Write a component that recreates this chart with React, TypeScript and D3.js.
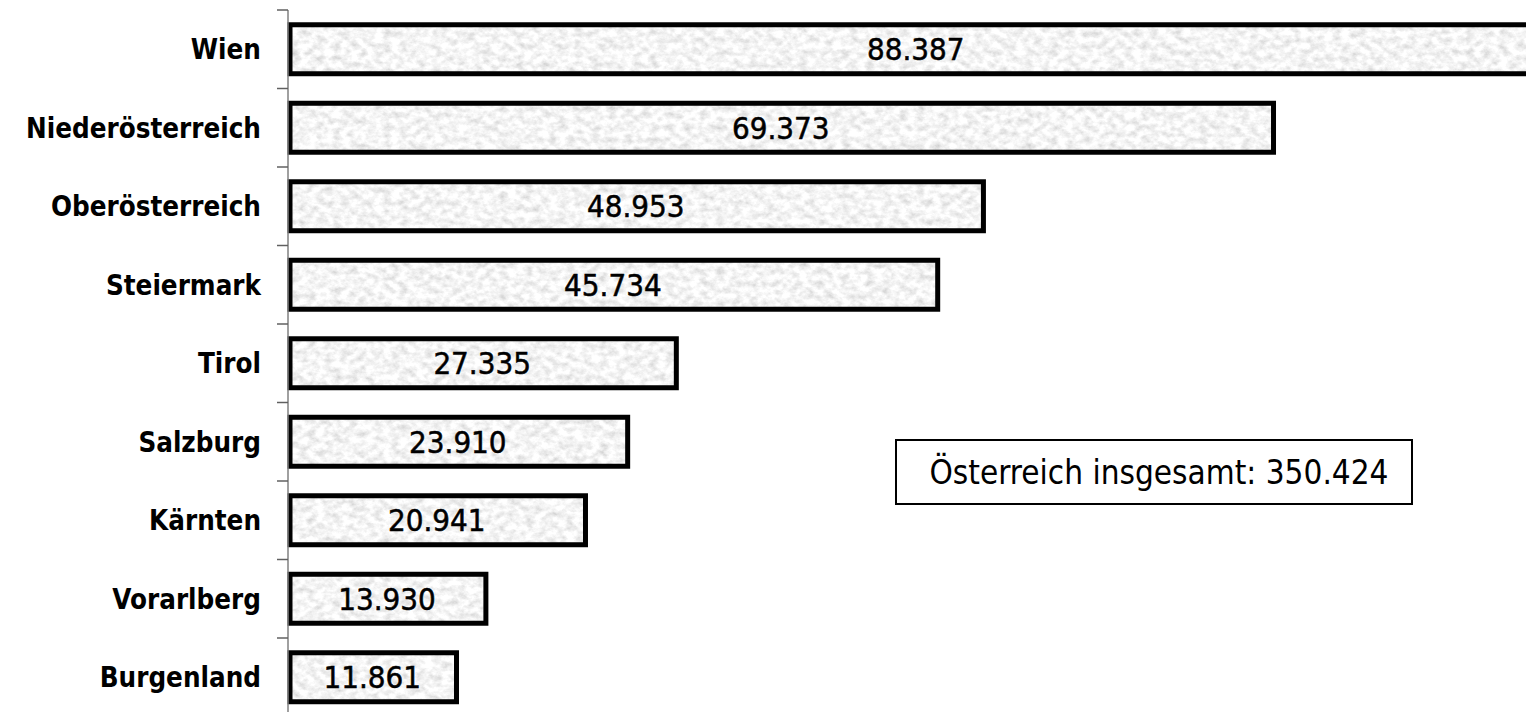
import React from 'react';
import * as d3 from 'd3';

const regions = ['Wien', 'Niederösterreich', 'Oberösterreich', 'Steiermark', 'Tirol', 'Salzburg', 'Kärnten', 'Vorarlberg', 'Burgenland'];
const values = [88.387, 69.373, 48.953, 45.734, 27.335, 23.91, 20.941, 13.93, 11.861];
const valueLabels = ['88.387', '69.373', '48.953', '45.734', '27.335', '23.910', '20.941', '13.930', '11.861'];
const totalLabel = 'Österreich insgesamt: 350.424';

const W = 1526;
const H = 712;
const FONT = '"DejaVu Sans Condensed", "DejaVu Sans", sans-serif';

const App = () => {
  const x = d3.scaleLinear().domain([0, 90]).range([288, 288 + 90 * 14.206]);
  const y = d3
    .scaleBand()
    .domain(regions)
    .range([10, 10 + regions.length * 78.5])
    .paddingInner(0.376)
    .paddingOuter(0.188);

  const step = y.step();
  const bw = y.bandwidth();
  const tickYs = regions.map((r) => y(r) - (step - bw) / 2);
  tickYs.push(y.range()[1]);

  return (
    <div style={{ position: 'fixed', left: 0, top: 0 }}>
      <svg width={W} height={H} style={{ display: 'block', overflow: 'hidden', background: '#fff' }}>
        <defs>
          <filter id="grain" x="0" y="0" width="100%" height="100%">
            <feTurbulence type="fractalNoise" baseFrequency="0.12 0.16" numOctaves="4" seed="7" result="n" />
            <feColorMatrix
              in="n"
              type="matrix"
              values="0.62 0 0 0 0.6  0.62 0 0 0 0.6  0.62 0 0 0 0.6  0 0 0 0 1"
            />
            <feComposite operator="in" in2="SourceGraphic" />
          </filter>
        </defs>

        {/* bars */}
        {regions.map((r, i) => {
          const x0 = x(0) + 2;
          const x1 = x(values[i]);
          return (
            <g key={r}>
              <rect x={x0} y={y(r)} width={x1 - x0} height={bw} fill="#fff" filter="url(#grain)" />
              <rect x={x0} y={y(r)} width={x1 - x0} height={bw} fill="none" stroke="#000" strokeWidth={5} />
              <text
                x={(x(0) + x1) / 2}
                y={y(r) + bw / 2}
                dy="0.36em"
                textAnchor="middle"
                fontFamily={FONT}
                fontSize={31}
                fill="#000"
                stroke="#000"
                strokeWidth={0.5}
              >
                {valueLabels[i]}
              </text>
            </g>
          );
        })}

        {/* axis */}
        <line x1={288} x2={288} y1={10} y2={y.range()[1]} stroke="#808080" strokeWidth={1.5} />
        {tickYs.map((t, i) => (
          <line key={i} x1={277} x2={288} y1={t} y2={t} stroke="#606060" strokeWidth={1.5} />
        ))}
        {regions.map((r) => (
          <text
            key={r}
            x={261}
            y={y(r) + bw / 2}
            dy="0.36em"
            textAnchor="end"
            fontFamily={FONT}
            fontWeight="bold"
            fontSize={27.5}
            fill="#000"
          >
            {r}
          </text>
        ))}

        {/* total box */}
        <rect x={896} y={440} width={516} height={64} fill="#fff" stroke="#000" strokeWidth={2} />
        <text x={1159} y={472} dy="0.36em" textAnchor="middle" fontFamily={FONT} fontSize={33} fill="#000">
          {totalLabel}
        </text>
      </svg>
    </div>
  );
};

export default App;
